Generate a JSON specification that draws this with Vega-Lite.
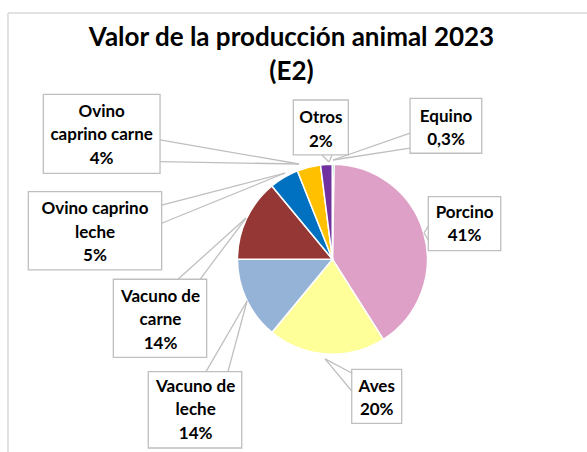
{
  "$schema": "https://vega.github.io/schema/vega-lite/v6.json",
  "width": 587,
  "height": 452,
  "autosize": {"type": "none"},
  "padding": 0,
  "background": "white",
  "config": {"view": {"stroke": null}, "axis": {"disable": true}, "font": "Lato"},
  "title": {
    "text": ["Valor de la producción animal 2023", "(E2)"],
    "font": "Lato", "fontSize": 26, "fontWeight": "bold", "color": "black",
    "lineHeight": 34, "anchor": "middle", "frame": "group", "baseline": "top",
    "offset": -85, "dx": -2
  },
  "data": {
    "values": [
      {"categoria": "Porcino", "valor": 41, "texto": ["Porcino", "41%"]},
      {"categoria": "Aves", "valor": 20, "texto": ["Aves", "20%"]},
      {"categoria": "Vacuno de leche", "valor": 14, "texto": ["Vacuno de", "leche", "14%"]},
      {"categoria": "Vacuno de carne", "valor": 14, "texto": ["Vacuno de", "carne", "14%"]},
      {"categoria": "Ovino caprino leche", "valor": 5, "texto": ["Ovino caprino", "leche", "5%"]},
      {"categoria": "Ovino caprino carne", "valor": 4, "texto": ["Ovino", "caprino carne", "4%"]},
      {"categoria": "Otros", "valor": 2, "texto": ["Otros", "2%"]},
      {"categoria": "Equino", "valor": 0.3, "texto": ["Equino", "0,3%"]}
    ]
  },
  "transform": [
    {"window": [{"op": "row_number", "as": "orden"}]},
    {"stack": "valor", "groupby": [], "sort": [{"field": "orden", "order": "ascending"}], "as": ["ini", "fin"]}
  ],
  "layer": [
    {
      "transform": [{"filter": "datum.orden === 1"}],
      "layer": [
        {"mark": {"type": "rule", "stroke": "#d9d9d9", "strokeWidth": 1.5},
         "encoding": {
           "x": {"datum": -3.416, "type": "quantitative", "scale": {"domain": [-3.5, 2.68], "nice": false, "zero": false}, "axis": null},
           "x2": {"datum": 2.68},
           "y": {"datum": 2.593, "type": "quantitative", "scale": {"domain": [-2.03, 2.73], "nice": false, "zero": false}, "axis": null},
           "y2": {"datum": 2.593}}},
        {"mark": {"type": "rule", "stroke": "#d9d9d9", "strokeWidth": 1.5},
         "encoding": {
           "x": {"datum": -3.416, "type": "quantitative"},
           "y": {"datum": 2.593, "type": "quantitative"},
           "y2": {"datum": -2.03}}}
      ]
    },
    {
      "mark": {"type": "arc", "outerRadius": 95, "stroke": "white", "strokeWidth": 1.5},
      "encoding": {
        "x": {"datum": 0, "type": "quantitative", "stack": false},
        "y": {"datum": 0, "type": "quantitative", "stack": false},
        "theta": {"field": "ini", "type": "quantitative"},
        "theta2": {"field": "fin"},
        "color": {
          "field": "categoria", "type": "nominal", "legend": null,
          "scale": {
            "domain": ["Porcino", "Aves", "Vacuno de leche", "Vacuno de carne", "Ovino caprino leche", "Ovino caprino carne", "Otros", "Equino"],
            "range": ["#DEA0C6", "#FFFF99", "#95B3D7", "#953735", "#0070C0", "#FFC000", "#7030A0", "#00B050"]
          }
        }
      }
    },
    {
      "transform": [{"filter": "datum.categoria === 'Porcino'"}],
      "layer": [
        {"mark": {"type": "rect", "fill": "white", "stroke": "#bfbfbf", "strokeWidth": 1.3},
         "encoding": {"x": {"datum": 1.009, "type": "quantitative"}, "x2": {"datum": 1.772}, "y": {"datum": 0.659, "type": "quantitative"}, "y2": {"datum": 0.090}}},
        {"mark": {"type": "rule", "stroke": "#bfbfbf", "strokeWidth": 1.3},
         "encoding": {"x": {"datum": 1.009, "type": "quantitative"}, "x2": {"datum": 0.964}, "y": {"datum": 0.350, "type": "quantitative"}, "y2": {"datum": 0.276}}},
        {"mark": {"type": "rule", "stroke": "#bfbfbf", "strokeWidth": 1.3},
         "encoding": {"x": {"datum": 1.009, "type": "quantitative"}, "x2": {"datum": 0.964}, "y": {"datum": 0.203, "type": "quantitative"}, "y2": {"datum": 0.276}}},
        {"mark": {"type": "text", "font": "Lato", "fontSize": 17, "fontWeight": "bold", "color": "black", "lineHeight": 23.5, "align": "center", "baseline": "middle"},
         "encoding": {"x": {"datum": 1.391, "type": "quantitative"}, "y": {"datum": 0.490, "type": "quantitative"}, "text": {"field": "texto"}}}
      ]
    },
    {
      "transform": [{"filter": "datum.categoria === 'Aves'"}],
      "layer": [
        {"mark": {"type": "rect", "fill": "white", "stroke": "#bfbfbf", "strokeWidth": 1.3},
         "encoding": {"x": {"datum": 0.203, "type": "quantitative"}, "x2": {"datum": 0.729}, "y": {"datum": -1.159, "type": "quantitative"}, "y2": {"datum": -1.728}}},
        {"mark": {"type": "rule", "stroke": "#bfbfbf", "strokeWidth": 1.3},
         "encoding": {"x": {"datum": 0.203, "type": "quantitative"}, "x2": {"datum": -0.078}, "y": {"datum": -1.198, "type": "quantitative"}, "y2": {"datum": -1.05}}},
        {"mark": {"type": "rule", "stroke": "#bfbfbf", "strokeWidth": 1.3},
         "encoding": {"x": {"datum": 0.203, "type": "quantitative"}, "x2": {"datum": -0.078}, "y": {"datum": -1.388, "type": "quantitative"}, "y2": {"datum": -1.05}}},
        {"mark": {"type": "text", "font": "Lato", "fontSize": 17, "fontWeight": "bold", "color": "black", "lineHeight": 23.5, "align": "center", "baseline": "middle"},
         "encoding": {"x": {"datum": 0.466, "type": "quantitative"}, "y": {"datum": -1.342, "type": "quantitative"}, "text": {"field": "texto"}}}
      ]
    },
    {
      "transform": [{"filter": "datum.categoria === 'Vacuno de leche'"}],
      "layer": [
        {"mark": {"type": "rect", "fill": "white", "stroke": "#bfbfbf", "strokeWidth": 1.3},
         "encoding": {"x": {"datum": -1.939, "type": "quantitative"}, "x2": {"datum": -0.955}, "y": {"datum": -1.184, "type": "quantitative"}, "y2": {"datum": -1.988}}},
        {"mark": {"type": "rule", "stroke": "#bfbfbf", "strokeWidth": 1.3},
         "encoding": {"x": {"datum": -1.331, "type": "quantitative"}, "x2": {"datum": -0.899}, "y": {"datum": -1.184, "type": "quantitative"}, "y2": {"datum": -0.44}}},
        {"mark": {"type": "rule", "stroke": "#bfbfbf", "strokeWidth": 1.3},
         "encoding": {"x": {"datum": -1.1, "type": "quantitative"}, "x2": {"datum": -0.899}, "y": {"datum": -1.184, "type": "quantitative"}, "y2": {"datum": -0.44}}},
        {"mark": {"type": "text", "font": "Lato", "fontSize": 17, "fontWeight": "bold", "color": "black", "lineHeight": 23.5, "align": "center", "baseline": "middle"},
         "encoding": {"x": {"datum": -1.44, "type": "quantitative"}, "y": {"datum": -1.342, "type": "quantitative"}, "text": {"field": "texto"}}}
      ]
    },
    {
      "transform": [{"filter": "datum.categoria === 'Vacuno de carne'"}],
      "layer": [
        {"mark": {"type": "rect", "fill": "white", "stroke": "#bfbfbf", "strokeWidth": 1.3},
         "encoding": {"x": {"datum": -2.307, "type": "quantitative"}, "x2": {"datum": -1.324}, "y": {"datum": -0.211, "type": "quantitative"}, "y2": {"datum": -1.033}}},
        {"mark": {"type": "rule", "stroke": "#bfbfbf", "strokeWidth": 1.3},
         "encoding": {"x": {"datum": -1.626, "type": "quantitative"}, "x2": {"datum": -0.91}, "y": {"datum": -0.211, "type": "quantitative"}, "y2": {"datum": 0.434}}},
        {"mark": {"type": "rule", "stroke": "#bfbfbf", "strokeWidth": 1.3},
         "encoding": {"x": {"datum": -1.394, "type": "quantitative"}, "x2": {"datum": -0.91}, "y": {"datum": -0.211, "type": "quantitative"}, "y2": {"datum": 0.434}}},
        {"mark": {"type": "text", "font": "Lato", "fontSize": 17, "fontWeight": "bold", "color": "black", "lineHeight": 23.5, "align": "center", "baseline": "middle"},
         "encoding": {"x": {"datum": -1.81, "type": "quantitative"}, "y": {"datum": -0.394, "type": "quantitative"}, "text": {"field": "texto"}}}
      ]
    },
    {
      "transform": [{"filter": "datum.categoria === 'Ovino caprino leche'"}],
      "layer": [
        {"mark": {"type": "rect", "fill": "white", "stroke": "#bfbfbf", "strokeWidth": 1.3},
         "encoding": {"x": {"datum": -3.202, "type": "quantitative"}, "x2": {"datum": -1.798}, "y": {"datum": 0.711, "type": "quantitative"}, "y2": {"datum": -0.113}}},
        {"mark": {"type": "rule", "stroke": "#bfbfbf", "strokeWidth": 1.3},
         "encoding": {"x": {"datum": -1.798, "type": "quantitative"}, "x2": {"datum": -0.499}, "y": {"datum": 0.571, "type": "quantitative"}, "y2": {"datum": 0.908}}},
        {"mark": {"type": "rule", "stroke": "#bfbfbf", "strokeWidth": 1.3},
         "encoding": {"x": {"datum": -1.798, "type": "quantitative"}, "x2": {"datum": -0.499}, "y": {"datum": 0.379, "type": "quantitative"}, "y2": {"datum": 0.908}}},
        {"mark": {"type": "text", "font": "Lato", "fontSize": 17, "fontWeight": "bold", "color": "black", "lineHeight": 23.5, "align": "center", "baseline": "middle"},
         "encoding": {"x": {"datum": -2.5, "type": "quantitative"}, "y": {"datum": 0.529, "type": "quantitative"}, "text": {"field": "texto"}}}
      ]
    },
    {
      "transform": [{"filter": "datum.categoria === 'Ovino caprino carne'"}],
      "layer": [
        {"mark": {"type": "rect", "fill": "white", "stroke": "#bfbfbf", "strokeWidth": 1.3},
         "encoding": {"x": {"datum": -3.044, "type": "quantitative"}, "x2": {"datum": -1.815}, "y": {"datum": 1.737, "type": "quantitative"}, "y2": {"datum": 0.905}}},
        {"mark": {"type": "rule", "stroke": "#bfbfbf", "strokeWidth": 1.3},
         "encoding": {"x": {"datum": -1.815, "type": "quantitative"}, "x2": {"datum": -0.352}, "y": {"datum": 1.256, "type": "quantitative"}, "y2": {"datum": 1.003}}},
        {"mark": {"type": "rule", "stroke": "#bfbfbf", "strokeWidth": 1.3},
         "encoding": {"x": {"datum": -1.815, "type": "quantitative"}, "x2": {"datum": -0.352}, "y": {"datum": 1.027, "type": "quantitative"}, "y2": {"datum": 1.003}}},
        {"mark": {"type": "text", "font": "Lato", "fontSize": 17, "fontWeight": "bold", "color": "black", "lineHeight": 23.5, "align": "center", "baseline": "middle"},
         "encoding": {"x": {"datum": -2.43, "type": "quantitative"}, "y": {"datum": 1.551, "type": "quantitative"}, "text": {"field": "texto"}}}
      ]
    },
    {
      "transform": [{"filter": "datum.categoria === 'Otros'"}],
      "layer": [
        {"mark": {"type": "rect", "fill": "white", "stroke": "#bfbfbf", "strokeWidth": 1.3},
         "encoding": {"x": {"datum": -0.412, "type": "quantitative"}, "x2": {"datum": 0.167}, "y": {"datum": 1.677, "type": "quantitative"}, "y2": {"datum": 1.098}}},
        {"mark": {"type": "rule", "stroke": "#bfbfbf", "strokeWidth": 1.3},
         "encoding": {"x": {"datum": -0.110, "type": "quantitative"}, "x2": {"datum": -0.036}, "y": {"datum": 1.098, "type": "quantitative"}, "y2": {"datum": 1.024}}},
        {"mark": {"type": "rule", "stroke": "#bfbfbf", "strokeWidth": 1.3},
         "encoding": {"x": {"datum": -0.004, "type": "quantitative"}, "x2": {"datum": -0.036}, "y": {"datum": 1.098, "type": "quantitative"}, "y2": {"datum": 1.024}}},
        {"mark": {"type": "text", "font": "Lato", "fontSize": 17, "fontWeight": "bold", "color": "black", "lineHeight": 23.5, "align": "center", "baseline": "middle"},
         "encoding": {"x": {"datum": -0.122, "type": "quantitative"}, "y": {"datum": 1.487, "type": "quantitative"}, "text": {"field": "texto"}}}
      ]
    },
    {
      "transform": [{"filter": "datum.categoria === 'Equino'"}],
      "layer": [
        {"mark": {"type": "rect", "fill": "white", "stroke": "#bfbfbf", "strokeWidth": 1.3},
         "encoding": {"x": {"datum": 0.817, "type": "quantitative"}, "x2": {"datum": 1.572}, "y": {"datum": 1.695, "type": "quantitative"}, "y2": {"datum": 1.116}}},
        {"mark": {"type": "rule", "stroke": "#bfbfbf", "strokeWidth": 1.3},
         "encoding": {"x": {"datum": 0.817, "type": "quantitative"}, "x2": {"datum": 0.006}, "y": {"datum": 1.329, "type": "quantitative"}, "y2": {"datum": 1.045}}},
        {"mark": {"type": "rule", "stroke": "#bfbfbf", "strokeWidth": 1.3},
         "encoding": {"x": {"datum": 0.817, "type": "quantitative"}, "x2": {"datum": 0.006}, "y": {"datum": 1.171, "type": "quantitative"}, "y2": {"datum": 1.045}}},
        {"mark": {"type": "text", "font": "Lato", "fontSize": 17, "fontWeight": "bold", "color": "black", "lineHeight": 23.5, "align": "center", "baseline": "middle"},
         "encoding": {"x": {"datum": 1.196, "type": "quantitative"}, "y": {"datum": 1.501, "type": "quantitative"}, "text": {"field": "texto"}}}
      ]
    }
  ]
}
